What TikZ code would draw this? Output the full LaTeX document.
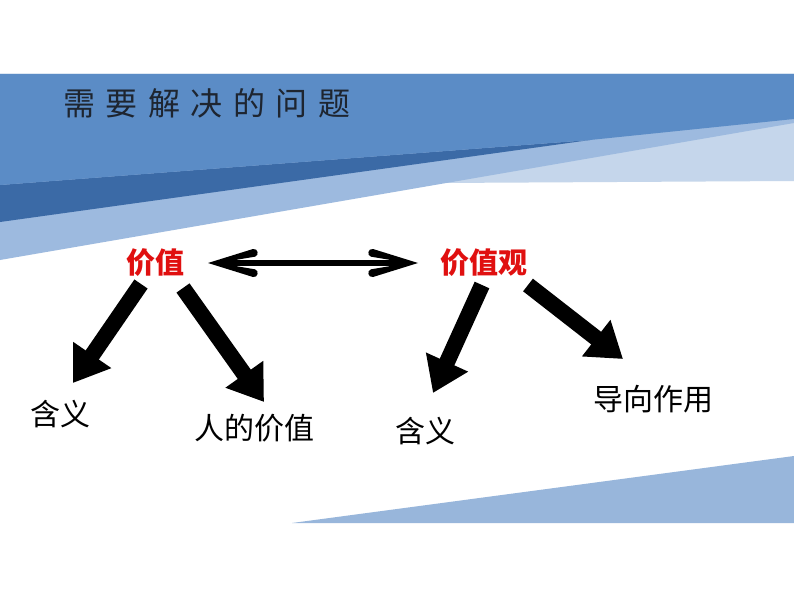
\documentclass[tikz,border=0pt]{standalone}
\usepackage{fontspec}
\newfontfamily\cjk{Noto Sans CJK SC}
\usetikzlibrary{arrows.meta}
\definecolor{bandmid}{HTML}{5B8CC6}
\definecolor{banddark}{HTML}{3B6AA6}
\definecolor{bandlight}{HTML}{9DBADF}
\definecolor{bandpale}{HTML}{C5D6EB}
\definecolor{wedgeblue}{HTML}{98B6DB}
\definecolor{titletext}{HTML}{1E2530}
\definecolor{keyred}{HTML}{E01010}
\pgfdeclarearrow{
  name = Chev,
  setup code = {
    \pgfarrowssettipend{0pt}
    \pgfarrowssetlineend{-28pt}
    \pgfarrowssetbackend{-50pt}
    \pgfarrowshullpoint{0pt}{0pt}
    \pgfarrowshullpoint{-50pt}{14.5pt}
    \pgfarrowshullpoint{-50pt}{-14.5pt}
  },
  drawing code = {
    \pgfpathmoveto{\pgfpointorigin}
    \pgfpathlineto{\pgfpoint{-45pt}{14pt}}
    \pgfpathcurveto{\pgfpoint{-50pt}{15pt}}{\pgfpoint{-51.5pt}{7.5pt}}{\pgfpoint{-47pt}{6.3pt}}
    \pgfpathlineto{\pgfpoint{-29pt}{3.3pt}}
    \pgfpathlineto{\pgfpoint{-29pt}{-3.3pt}}
    \pgfpathlineto{\pgfpoint{-47pt}{-6.3pt}}
    \pgfpathcurveto{\pgfpoint{-51.5pt}{-7.5pt}}{\pgfpoint{-50pt}{-15pt}}{\pgfpoint{-45pt}{-14pt}}
    \pgfpathclose
    \pgfusepathqfill
  }
}
\begin{document}
\begin{tikzpicture}[x=1pt,y=-1pt,
  keylabel/.style={font=\cjk\bfseries\fontsize{29}{29}\selectfont, text=keyred, inner sep=0pt},
  itemlabel/.style={font=\cjk\fontsize{30}{30}\selectfont, text=black, inner sep=0pt},
  bigarrow/.style={line width=16pt, black, -{Triangle[length=34pt,width=44pt]}},
  dblarrow/.style={line width=6.5pt, black, {Chev}-{Chev}}]
  \useasboundingbox (0,0) rectangle (794,596);
  \fill[white] (0,0) rectangle (794,596);
  % header band
  \fill[bandpale] (440,183) -- (794,181) -- (794,74) -- (440,74) -- cycle;
  \fill[bandlight] (0,260) -- (794,123) -- (794,74) -- (0,74) -- cycle;
  \fill[banddark] (0,222) -- (590,140) -- (0,185) -- cycle;
  \fill[bandmid] (0,74) -- (794,74) -- (794,119) -- (590,140) -- (0,185) -- cycle;
  % bottom wedge
  \fill[wedgeblue] (292,523) -- (794,456) -- (794,523) -- cycle;
  % title
  \node[anchor=west, text=titletext, font=\cjk\fontsize{32}{32}\selectfont, inner sep=0pt] (title) at (63,103)
    {需\hspace{10.5pt}要\hspace{10.5pt}解\hspace{10.5pt}决\hspace{10.5pt}的\hspace{10.5pt}问\hspace{10.5pt}题};
  % labels
  \node[keylabel] (jz) at (155,263) {价值};
  \node[keylabel] (jzg) at (484,263) {价值观};
  \node[itemlabel] (hy1) at (60,414) {含义};
  \node[itemlabel] (rdjz) at (254,428) {人的价值};
  \node[itemlabel] (hy2) at (425,431) {含义};
  \node[itemlabel] (dxzy) at (653,399) {导向作用};
  % arrow end points
  \coordinate (a1s) at (141,284); \coordinate (a1e) at (73,383);
  \coordinate (a2s) at (183,288); \coordinate (a2e) at (264,402);
  \coordinate (a3s) at (482,285); \coordinate (a3e) at (433,393);
  \coordinate (a4s) at (528,285); \coordinate (a4e) at (623,359);
  \coordinate (dl) at (208,263); \coordinate (dr) at (418,263);
  % connectors
  \draw[dblarrow] (dl) -- (dr);
  \draw[bigarrow] (a1s) -- (a1e);
  \draw[bigarrow] (a2s) -- (a2e);
  \draw[bigarrow] (a3s) -- (a3e);
  \draw[bigarrow] (a4s) -- (a4e);
\end{tikzpicture}
\end{document}
